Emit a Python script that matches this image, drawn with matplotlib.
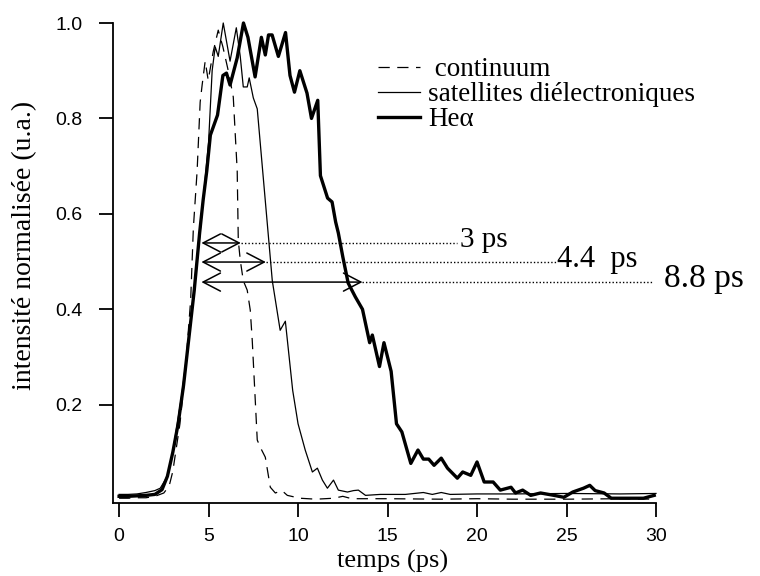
import numpy as np
import matplotlib
matplotlib.use("Agg")
from matplotlib import pyplot as plt
from matplotlib.lines import Line2D

# continuum (dashed)
t_cont = [0, 0.5, 1.0, 1.5, 2.0, 2.5, 2.8, 3.0, 3.4, 3.7, 4.0, 4.15, 4.36, 4.53, 4.64,
          4.81, 4.98, 5.26, 5.54, 5.8, 6.1, 6.38, 6.6, 6.66, 6.77, 6.94, 7.16, 7.33,
          7.44, 7.6, 7.72, 7.9, 8.17, 8.45, 8.73, 9.1, 9.4, 10.1, 11.0, 12.0, 12.5,
          13.0, 15.0, 18.0, 20.0, 22.0, 25.0, 28.0, 30.0]
y_cont = [0.004, 0.004, 0.005, 0.005, 0.008, 0.015, 0.03, 0.06, 0.16, 0.27, 0.42, 0.57,
          0.69, 0.834, 0.87, 0.92, 0.88, 0.94, 0.985, 0.95, 0.90, 0.845, 0.69, 0.545,
          0.503, 0.46, 0.44, 0.398, 0.335, 0.216, 0.126, 0.11, 0.09, 0.027, 0.015,
          0.02, 0.01, 0.004, 0.002, 0.004, 0.008, 0.003, 0.003, 0.002, 0.003, 0.002,
          0.002, 0.003, 0.002]

# satellites dielectroniques (thin)
t_sat = [0, 0.5, 1.0, 1.5, 2.0, 2.3, 2.7, 3.0, 3.5, 4.0, 4.5, 4.8, 5.0, 5.2, 5.37,
         5.54, 5.82, 6.2, 6.55, 6.77, 6.94, 7.16, 7.27, 7.5, 7.72, 8.56, 9.0, 9.29,
         9.7, 10.0, 10.4, 10.8, 11.08, 11.36, 11.64, 11.98, 12.25, 12.76, 13.1, 13.37,
         13.77, 14.6, 16.0, 17.0, 17.5, 18.0, 18.5, 20.0, 22.0, 25.0, 28.0, 30.0]
y_sat = [0.012, 0.012, 0.013, 0.016, 0.02, 0.025, 0.05, 0.10, 0.22, 0.37, 0.55, 0.67,
         0.75, 0.90, 0.95, 0.93, 1.0, 0.92, 0.99, 0.93, 0.866, 0.866, 0.885, 0.843,
         0.82, 0.46, 0.356, 0.375, 0.23, 0.16, 0.105, 0.059, 0.067, 0.042, 0.025,
         0.042, 0.021, 0.017, 0.02, 0.021, 0.01, 0.012, 0.012, 0.016, 0.012, 0.016,
         0.012, 0.013, 0.013, 0.014, 0.013, 0.014]

# He alpha (thick)
t_hea = [0, 0.5, 1.0, 1.5, 2.0, 2.4, 2.7, 3.0, 3.3, 3.6, 3.9, 4.2, 4.5, 4.7, 4.9, 5.1,
         5.5, 5.8, 6.0, 6.2, 6.6, 6.95, 7.2, 7.6, 7.95, 8.17, 8.35, 8.55, 8.9, 9.3,
         9.55, 9.8, 10.1, 10.5, 10.75, 11.1, 11.25, 11.65, 11.9, 12.1, 12.25, 12.5,
         12.8, 13.2, 13.6, 14.0, 14.15, 14.55, 14.8, 15.2, 15.5, 15.8, 16.3, 16.7,
         17.0, 17.3, 17.6, 18.0, 18.35, 18.9, 19.2, 19.65, 20.0, 20.4, 20.9, 21.3,
         21.9, 22.15, 22.55, 23.0, 23.55, 24.3, 24.85, 25.35, 25.95, 26.3, 26.6,
         27.1, 27.5, 28.5, 29.3, 29.9]
y_hea = [0.008, 0.008, 0.009, 0.010, 0.012, 0.022, 0.05, 0.10, 0.16, 0.24, 0.34, 0.44,
         0.56, 0.63, 0.69, 0.765, 0.807, 0.89, 0.895, 0.87, 0.927, 1.0, 0.97, 0.887,
         0.97, 0.933, 0.975, 0.975, 0.93, 0.98, 0.89, 0.855, 0.90, 0.853, 0.80, 0.838,
         0.68, 0.633, 0.625, 0.583, 0.56, 0.51, 0.455, 0.426, 0.40, 0.33, 0.346, 0.28,
         0.33, 0.27, 0.16, 0.143, 0.077, 0.105, 0.086, 0.086, 0.073, 0.088, 0.067,
         0.046, 0.059, 0.052, 0.08, 0.038, 0.038, 0.021, 0.027, 0.015, 0.021, 0.01,
         0.015, 0.01, 0.006, 0.017, 0.025, 0.031, 0.02, 0.015, 0.004, 0.004, 0.004,
         0.01]

labels = [" continuum", "satellites diélectroniques", "Heα"]

# widths: arrow start/end, level, end of dotted line, label start, label
w_start = [4.6, 4.6, 4.6]
w_end = [6.8, 8.2, 13.6]
w_level = [0.539, 0.499, 0.457]
w_dot_end = [18.9, 24.4, 29.8]
w_text_x = [19.05, 24.45, 30.45]
w_text = ["3 ps", "4.4  ps", "8.8 ps"]
w_size = [21, 22, 24]

serif = "Liberation Serif"
sans = "Liberation Sans"

fig = plt.figure(figsize=(7.6, 5.76), dpi=100)
ax = fig.add_axes([113 / 760, 1 - 503 / 576, 543 / 760, 480 / 576])

dash = (0, (9, 6))
ax.plot(t_cont, y_cont, color="k", lw=0.9, ls=dash, clip_on=False)
ax.plot(t_sat, y_sat, color="k", lw=0.9, clip_on=False)
ax.plot(t_hea, y_hea, color="k", lw=2.4, clip_on=False)

for x0, x1, yl, xd, xt, txt, fs in zip(w_start, w_end, w_level, w_dot_end,
                                       w_text_x, w_text, w_size):
    ax.annotate("", xy=(x1, yl), xytext=(x0, yl),
                arrowprops=dict(arrowstyle="<->,head_length=1.25,head_width=0.65",
                                lw=1.1, color="k", shrinkA=0, shrinkB=0))
    ax.plot([x1, xd], [yl, yl], color="k", lw=1.0, ls=(0, (1, 1.5)), clip_on=False)
    ax.text(xt, yl + 0.006, txt, fontsize=fs, family=serif,
            ha="left", va="center", clip_on=False)

ax.set_xlim(-0.34, 30)
ax.set_ylim(-0.006, 1.0)
ax.set_xticks([0, 5, 10, 15, 20, 25, 30])
ax.set_yticks([0.2, 0.4, 0.6, 0.8, 1.0])
ax.set_yticklabels(["0.2", "0.4", "0.6", "0.8", "1.0"])

for side in ["top", "right"]:
    ax.spines[side].set_visible(False)
for side in ["left", "bottom"]:
    ax.spines[side].set_linewidth(1.3)

ax.tick_params(direction="out", length=10, width=1.3, labelsize=14)
ax.tick_params(axis="x", pad=8)
ax.tick_params(axis="y", pad=12)
for lab in ax.get_xticklabels() + ax.get_yticklabels():
    lab.set_family(sans)

ax.set_xlabel("temps (ps)", fontsize=19, family=serif)
ax.xaxis.set_label_coords(0.514, -0.098)
ax.set_ylabel("intensité normalisée (u.a.)", fontsize=20, family=serif)
ax.yaxis.set_label_coords(-0.14, 0.5375)

handles = [Line2D([], [], color="k", lw=0.9, ls=dash),
           Line2D([], [], color="k", lw=0.9),
           Line2D([], [], color="k", lw=2.4)]
ax.legend(handles, labels, loc="upper left", bbox_to_anchor=(378 / 760, 1 - 57 / 576),
          bbox_transform=fig.transFigure, frameon=False, borderpad=0,
          borderaxespad=0, handlelength=1.55, handletextpad=0.3, labelspacing=0.0,
          prop={"family": serif, "size": 19.5})

fig.savefig("out.png", dpi=100)
